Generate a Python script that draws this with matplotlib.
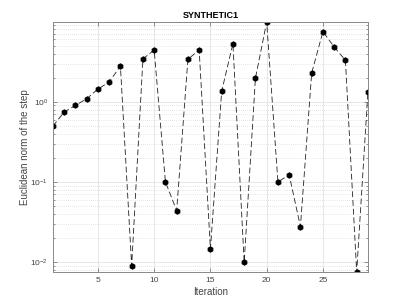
import numpy as np
import matplotlib
matplotlib.use("Agg")
import matplotlib.pyplot as plt

# === data ===
iterations = list(range(1, 30))
step_norm = [0.497, 0.743, 0.90, 1.09, 1.44, 1.76, 2.79, 0.0090, 3.42, 4.43,
             0.100, 0.0439, 3.39, 4.43, 0.01454, 1.35, 5.31, 0.0099, 1.96, 9.9,
             0.100, 0.1224, 0.0277, 2.28, 7.5, 4.83, 3.29, 0.0075, 1.33]
x_ticks = [5, 10, 15, 20, 25]

plt.rcParams['font.family'] = ['Liberation Sans', 'DejaVu Sans']

fig = plt.figure(figsize=(4.07, 3.05), dpi=100)
ax = fig.add_axes([0.13, 0.108, 0.774, 0.82])

ax.semilogy(iterations, step_norm, linestyle=(0, (7, 3.5)), color='#222222', lw=0.6,
            marker='h', markersize=3.6, markerfacecolor='black', markeredgecolor='black')

ax.set_xlim(min(iterations), max(iterations))
ax.set_ylim(min(step_norm), max(step_norm))
ax.set_xticks(x_ticks)

ax.grid(True, which='major', color='#e3e3e3', lw=0.6, linestyle='-')
ax.grid(True, which='minor', color='#cccccc', lw=0.5, linestyle=(0, (1, 2)))
ax.set_axisbelow(True)

for s in ax.spines.values():
    s.set_color('#888888')
    s.set_linewidth(0.7)
ax.tick_params(which='both', direction='in', colors='#666666', labelsize=6,
               top=True, right=True, width=0.5)
ax.tick_params(which='major', length=3)
ax.tick_params(which='minor', length=1.5)
for lbl in ax.get_xticklabels() + ax.get_yticklabels():
    lbl.set_color('#444444')

ax.set_title("SYNTHETIC1", fontsize=6.5, fontweight='bold', pad=3)
ax.set_xlabel("Iteration", fontsize=7, color='#444444', labelpad=2)
ax.set_ylabel("Euclidean norm of the step", fontsize=7, color='#444444')
ax.yaxis.set_label_coords(-0.073, 0.5)

fig.savefig("out.png", dpi=100)
